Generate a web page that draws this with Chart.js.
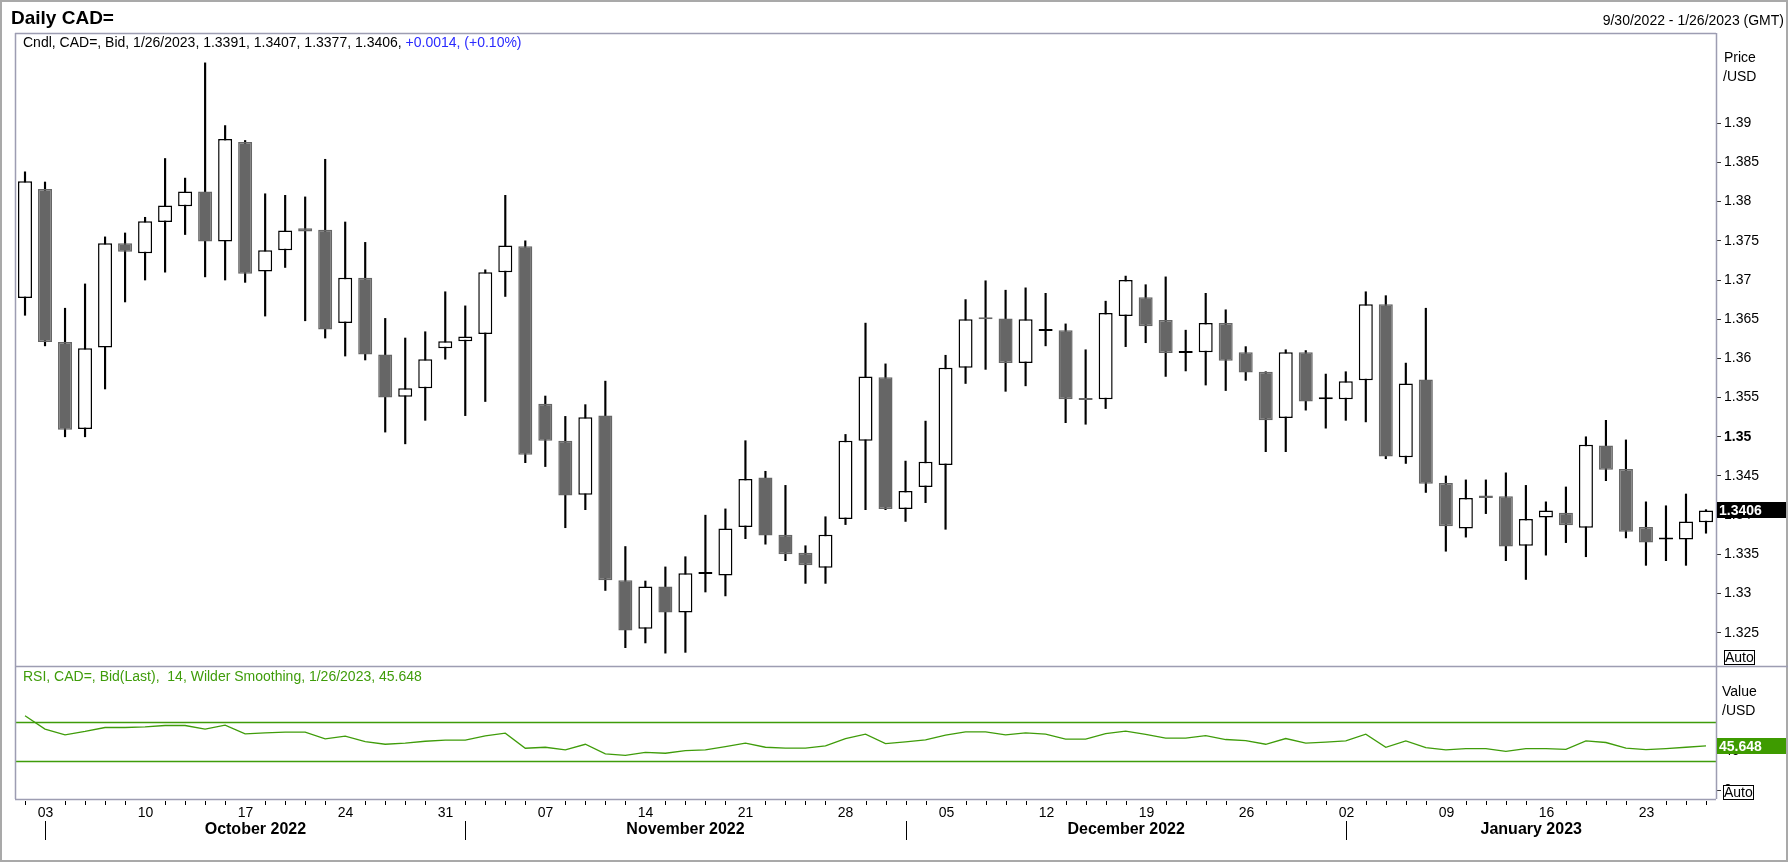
<!DOCTYPE html>
<html>
<head>
<meta charset="utf-8">
<title>Daily CAD=</title>
<script src="https://cdn.jsdelivr.net/npm/chart.js@4.4.0/dist/chart.umd.min.js"></script>
<style>
  html, body { margin: 0; padding: 0; background: #fff; }
  #wrap { width: 1788px; height: 862px; }
</style>
</head>
<body>
<div id="wrap"><canvas id="chart" width="1788" height="862"></canvas></div>
<script>
const dates = [
  '2022-09-30',
  '2022-10-03', '2022-10-04', '2022-10-05', '2022-10-06', '2022-10-07',
  '2022-10-10', '2022-10-11', '2022-10-12', '2022-10-13', '2022-10-14',
  '2022-10-17', '2022-10-18', '2022-10-19', '2022-10-20', '2022-10-21',
  '2022-10-24', '2022-10-25', '2022-10-26', '2022-10-27', '2022-10-28',
  '2022-10-31', '2022-11-01', '2022-11-02', '2022-11-03', '2022-11-04',
  '2022-11-07', '2022-11-08', '2022-11-09', '2022-11-10', '2022-11-11',
  '2022-11-14', '2022-11-15', '2022-11-16', '2022-11-17', '2022-11-18',
  '2022-11-21', '2022-11-22', '2022-11-23', '2022-11-24', '2022-11-25',
  '2022-11-28', '2022-11-29', '2022-11-30', '2022-12-01', '2022-12-02',
  '2022-12-05', '2022-12-06', '2022-12-07', '2022-12-08', '2022-12-09',
  '2022-12-12', '2022-12-13', '2022-12-14', '2022-12-15', '2022-12-16',
  '2022-12-19', '2022-12-20', '2022-12-21', '2022-12-22', '2022-12-23',
  '2022-12-26', '2022-12-27', '2022-12-28', '2022-12-29', '2022-12-30',
  '2023-01-02', '2023-01-03', '2023-01-04', '2023-01-05', '2023-01-06',
  '2023-01-09', '2023-01-10', '2023-01-11', '2023-01-12', '2023-01-13',
  '2023-01-16', '2023-01-17', '2023-01-18', '2023-01-19', '2023-01-20',
  '2023-01-23', '2023-01-24', '2023-01-25', '2023-01-26',
]

const opens = [
  1.3677,
  1.3816, 1.3621, 1.3510, 1.3614, 1.3747,
  1.3734, 1.3774, 1.3794, 1.3813, 1.3749,
  1.3876, 1.3711, 1.3738, 1.3766, 1.3764,
  1.3645, 1.3703, 1.3605, 1.3551, 1.3562,
  1.3613, 1.3622, 1.3631, 1.3710, 1.3743,
  1.3542, 1.3495, 1.3426, 1.3527, 1.3317,
  1.3255, 1.3309, 1.3276, 1.3325, 1.3323,
  1.3385, 1.3448, 1.3375, 1.3352, 1.3333,
  1.3395, 1.3495, 1.3576, 1.3408, 1.3436,
  1.3464, 1.3588, 1.3651, 1.3651, 1.3594,
  1.3635, 1.3636, 1.3548, 1.3548, 1.3654,
  1.3678, 1.3649, 1.3607, 1.3608, 1.3645,
  1.3608, 1.3583, 1.3524, 1.3608, 1.3548,
  1.3548, 1.3572, 1.3669, 1.3474, 1.3573,
  1.3441, 1.3383, 1.3425, 1.3424, 1.3361,
  1.3397, 1.3403, 1.3384, 1.3489, 1.3459,
  1.3385, 1.3369, 1.3369, 1.3391,
]

const highs = [
  1.3838,
  1.3825, 1.3664, 1.3695, 1.3755, 1.3760,
  1.3780, 1.3855, 1.3830, 1.3977, 1.3897,
  1.3878, 1.3810, 1.3808, 1.3806, 1.3854,
  1.3774, 1.3748, 1.3651, 1.3626, 1.3634,
  1.3685, 1.3667, 1.3713, 1.3808, 1.3750,
  1.3552, 1.3526, 1.3541, 1.3571, 1.3360,
  1.3316, 1.3334, 1.3347, 1.3400, 1.3408,
  1.3495, 1.3456, 1.3438, 1.3361, 1.3398,
  1.3503, 1.3645, 1.3593, 1.3469, 1.3520,
  1.3604, 1.3675, 1.3699, 1.3687, 1.3690,
  1.3683, 1.3644, 1.3611, 1.3673, 1.3705,
  1.3694, 1.3704, 1.3636, 1.3683, 1.3662,
  1.3615, 1.3583, 1.3611, 1.3610, 1.3580,
  1.3583, 1.3685, 1.3680, 1.3594, 1.3664,
  1.3450, 1.3445, 1.3445, 1.3454, 1.3438,
  1.3417, 1.3436, 1.3500, 1.3521, 1.3496,
  1.3417, 1.3412, 1.3427, 1.3407,
]

const lows = [
  1.3655,
  1.3616, 1.3500, 1.3500, 1.3561, 1.3672,
  1.3700, 1.3710, 1.3758, 1.3704, 1.3700,
  1.3697, 1.3654, 1.3716, 1.3648, 1.3626,
  1.3603, 1.3598, 1.3506, 1.3491, 1.3521,
  1.3599, 1.3527, 1.3545, 1.3679, 1.3467,
  1.3462, 1.3384, 1.3407, 1.3304, 1.3231,
  1.3237, 1.3224, 1.3225, 1.3302, 1.3297,
  1.3370, 1.3363, 1.3342, 1.3313, 1.3313,
  1.3388, 1.3407, 1.3407, 1.3392, 1.3416,
  1.3382, 1.3568, 1.3586, 1.3558, 1.3565,
  1.3616, 1.3518, 1.3516, 1.3536, 1.3615,
  1.3620, 1.3577, 1.3584, 1.3566, 1.3559,
  1.3572, 1.3481, 1.3481, 1.3534, 1.3511,
  1.3521, 1.3519, 1.3472, 1.3466, 1.3429,
  1.3354, 1.3372, 1.3402, 1.3342, 1.3318,
  1.3349, 1.3365, 1.3347, 1.3444, 1.3371,
  1.3336, 1.3342, 1.3336, 1.3377,
]

const closes = [
  1.3826,
  1.3621, 1.3509, 1.3613, 1.3747, 1.3736,
  1.3775, 1.3795, 1.3813, 1.3749, 1.3880,
  1.3708, 1.3738, 1.3763, 1.3762, 1.3637,
  1.3703, 1.3605, 1.3550, 1.3562, 1.3599,
  1.3622, 1.3628, 1.3710, 1.3744, 1.3477,
  1.3495, 1.3425, 1.3525, 1.3317, 1.3253,
  1.3309, 1.3276, 1.3326, 1.3325, 1.3383,
  1.3446, 1.3374, 1.3350, 1.3336, 1.3375,
  1.3495, 1.3577, 1.3408, 1.3431, 1.3468,
  1.3588, 1.3650, 1.3650, 1.3594, 1.3650,
  1.3635, 1.3548, 1.3547, 1.3658, 1.3700,
  1.3641, 1.3607, 1.3607, 1.3645, 1.3597,
  1.3582, 1.3521, 1.3608, 1.3545, 1.3548,
  1.3571, 1.3669, 1.3475, 1.3568, 1.3440,
  1.3386, 1.3422, 1.3422, 1.3360, 1.3395,
  1.3406, 1.3387, 1.3490, 1.3458, 1.3379,
  1.3365, 1.3369, 1.3392, 1.3406,
]

const rsi = [
  76.8,
  63.0, 57.0, 60.5, 64.6, 64.6,
  65.3, 66.7, 66.7, 62.9, 67.1,
  58.1, 59.1, 59.8, 59.8, 52.9,
  55.6, 50.1, 47.3, 48.4, 50.4,
  51.5, 51.5, 56.0, 58.7, 43.2,
  44.2, 41.4, 47.3, 37.3, 35.9,
  39.0, 38.0, 40.7, 41.4, 44.9,
  48.4, 44.2, 43.2, 43.2, 45.6,
  53.2, 57.7, 48.0, 49.7, 51.8,
  56.7, 60.1, 60.1, 57.0, 59.1,
  57.7, 52.5, 52.5, 58.4, 60.8,
  57.4, 53.6, 53.6, 56.3, 52.2,
  51.1, 47.3, 53.2, 48.4, 49.4,
  50.8, 57.7, 44.2, 50.8, 43.9,
  41.4, 42.8, 42.8, 40.0, 42.8,
  42.8, 42.1, 50.8, 49.1, 43.2,
  41.8, 42.8, 44.2, 45.648,
]

const priceTicks = [1.325, 1.33, 1.335, 1.34, 1.345, 1.35, 1.355, 1.36, 1.365, 1.37, 1.375, 1.38, 1.385, 1.39]
const rsiTicks = [0, 40]
const rsiBands = [30, 70]
const monthNames = ['January', 'February', 'March', 'April', 'May', 'June', 'July',
  'August', 'September', 'October', 'November', 'December']

const font = 'Liberation Sans, Arial, sans-serif'
const upColor = '#ffffff'
const downColor = '#666666'
const rsiColor = '#3f9c0a'
const frameColor = '#9d9db2'

Chart.defaults.font.family = font
Chart.defaults.font.size = 14
Chart.defaults.color = '#000'

const isUp = closes.map((c, i) => c >= opens[i])
const bodies = dates.map((d, i) => [opens[i], closes[i]])
const wicks = dates.map((d, i) => [lows[i], highs[i]])

function usDate(s) {
  const [y, m, d] = s.split('-')
  return `${+m}/${+d}/${y}`
}

function line(ctx, x1, y1, x2, y2) {
  ctx.beginPath()
  ctx.moveTo(x1, y1)
  ctx.lineTo(x2, y2)
  ctx.stroke()
}

function valueBox(ctx, y, text, fill) {
  ctx.fillStyle = fill
  ctx.fillRect(1717, Math.round(y) - 8, 69, 16)
  ctx.fillStyle = '#fff'
  ctx.font = 'bold 14px ' + font
  ctx.textAlign = 'left'
  ctx.textBaseline = 'middle'
  ctx.fillText(text, 1719, Math.round(y) + 1)
}

function autoBox(ctx, x, y) {
  ctx.fillStyle = '#fff'
  ctx.fillRect(x, y, 31, 15)
  ctx.strokeStyle = '#000'
  ctx.lineWidth = 1
  ctx.strokeRect(x + 0.5, y + 0.5, 30, 14)
  ctx.fillStyle = '#000'
  ctx.font = '14px ' + font
  ctx.textAlign = 'left'
  ctx.textBaseline = 'middle'
  ctx.fillText('Auto', x + 1, y + 8)
}

const decorations = {
  id: 'decorations',
  beforeDraw(chart) {
    const ctx = chart.ctx
    ctx.save()
    ctx.fillStyle = '#fff'
    ctx.fillRect(0, 0, chart.width, chart.height)
    ctx.restore()
  },
  beforeDatasetsDraw(chart) {
    const { ctx, chartArea: a, scales } = chart
    ctx.save()
    ctx.strokeStyle = rsiColor
    ctx.lineWidth = 1.5
    rsiBands.forEach((level) => {
      const y = Math.round(scales.y2.getPixelForValue(level)) + 0.5
      line(ctx, a.left, y, a.right, y)
    })
    ctx.restore()
  },
  afterDraw(chart) {
    const { ctx, chartArea: a, scales } = chart
    const xs = scales.x
    const last = closes.length - 1
    ctx.save()

    // frames
    ctx.strokeStyle = '#a9a9a9'
    ctx.lineWidth = 2
    ctx.strokeRect(1, 1, chart.width - 2, chart.height - 2)
    ctx.strokeStyle = frameColor
    ctx.lineWidth = 1.5
    const sep = Math.round(scales.y.bottom) + 0.5
    line(ctx, a.left, a.top + 0.5, a.right, a.top + 0.5)
    line(ctx, a.left + 0.5, a.top, a.left + 0.5, a.bottom)
    line(ctx, a.right + 0.5, a.top, a.right + 0.5, a.bottom)
    line(ctx, a.left, sep, chart.width, sep)
    line(ctx, a.left, a.bottom + 0.5, a.right, a.bottom + 0.5)

    // header
    ctx.fillStyle = '#000'
    ctx.font = 'bold 19px ' + font
    ctx.textAlign = 'left'
    ctx.textBaseline = 'alphabetic'
    ctx.fillText('Daily CAD=', 11, 24)
    ctx.font = '14px ' + font
    ctx.textAlign = 'right'
    ctx.textBaseline = 'middle'
    ctx.fillText(`${usDate(dates[0])} - ${usDate(dates[last])} (GMT)`, 1784, 21)

    // legends
    const change = closes[last] - closes[last - 1]
    const sign = change >= 0 ? '+' : '-'
    const mainText = `Cndl, CAD=, Bid, ${usDate(dates[last])}, ${opens[last].toFixed(4)}, ` +
      `${highs[last].toFixed(4)}, ${lows[last].toFixed(4)}, ${closes[last].toFixed(4)}, `
    const changeText = `${sign}${Math.abs(change).toFixed(4)}, (${sign}${Math.abs(change / closes[last - 1] * 100).toFixed(2)}%)`
    ctx.textAlign = 'left'
    ctx.fillText(mainText, 23, 43)
    ctx.fillStyle = '#2a2aff'
    ctx.fillText(changeText, 23 + ctx.measureText(mainText).width, 43)
    ctx.fillStyle = rsiColor
    ctx.fillText(`RSI, CAD=, Bid(Last),  14, Wilder Smoothing, ${usDate(dates[last])}, ${rsi[last].toFixed(3)}`, 23, 677)

    // axis titles
    ctx.fillStyle = '#000'
    ctx.fillText('Price', 1724, 58)
    ctx.fillText('/USD', 1723, 77)
    ctx.fillText('Value', 1722, 692)
    ctx.fillText('/USD', 1722, 711)

    // x axis: day ticks, monday labels, months
    ctx.strokeStyle = '#000'
    ctx.lineWidth = 1
    ctx.textAlign = 'center'
    dates.forEach((s, i) => {
      const [y, m, d] = s.split('-').map(Number)
      const x = Math.round(xs.getPixelForValue(i)) + 0.5
      if (new Date(y, m - 1, d).getDay() === 1) {
        ctx.font = '14px ' + font
        ctx.fillText(String(d).padStart(2, '0'), x, 813)
      } else {
        line(ctx, x, a.bottom + 2, x, a.bottom + 6)
      }
    })
    const starts = []
    dates.forEach((s, i) => {
      if (i > 0 && s.slice(5, 7) !== dates[i - 1].slice(5, 7)) starts.push(i)
    })
    starts.forEach((i, k) => {
      const x = Math.round(xs.getPixelForValue(i)) + 0.5
      const end = k + 1 < starts.length ? xs.getPixelForValue(starts[k + 1]) : a.right
      line(ctx, x, 821, x, 840)
      const [y, m] = dates[i].split('-').map(Number)
      ctx.font = 'bold 16px ' + font
      ctx.fillText(`${monthNames[m - 1]} ${y}`, (x + end) / 2, 830)
    })

    // value boxes
    valueBox(ctx, scales.y.getPixelForValue(closes[last]), closes[last].toFixed(4), '#000')
    valueBox(ctx, scales.y2.getPixelForValue(rsi[last]), rsi[last].toFixed(3), '#3e9b00')
    autoBox(ctx, 1724, Math.round(scales.y.bottom) - 16)
    autoBox(ctx, 1723, Math.round(scales.y2.bottom) - 14)

    ctx.restore()
  },
}

new Chart(document.getElementById('chart'), {
  type: 'bar',
  data: {
    labels: dates,
    datasets: [
      {
        label: 'Body',
        data: bodies,
        yAxisID: 'y',
        grouped: false,
        order: 0,
        backgroundColor: isUp.map((u) => (u ? upColor : downColor)),
        borderColor: isUp.map((u) => (u ? '#000' : downColor)),
        borderWidth: 1.5,
        borderSkipped: false,
        minBarLength: 2,
        barPercentage: 0.7,
        categoryPercentage: 1,
      },
      {
        label: 'Wick',
        data: wicks,
        yAxisID: 'y',
        grouped: false,
        order: 1,
        backgroundColor: '#000',
        borderWidth: 0,
        barThickness: 1.5,
      },
      {
        type: 'line',
        label: 'RSI',
        data: rsi,
        yAxisID: 'y2',
        order: 2,
        borderColor: rsiColor,
        borderWidth: 1.3,
        pointRadius: 0,
        tension: 0,
      },
    ],
  },
  options: {
    responsive: false,
    animation: false,
    devicePixelRatio: 1,
    events: [],
    layout: { padding: { left: 15, top: 33, right: 0, bottom: 63 } },
    plugins: { legend: { display: false }, tooltip: { enabled: false } },
    scales: {
      x: { type: 'category', display: false, offset: true },
      y: {
        position: 'right',
        stack: 'panes',
        stackWeight: 633,
        min: 1.32076,
        max: 1.40151,
        afterFit: (s) => { s.width = 72 },
        afterBuildTicks: (s) => { s.ticks = priceTicks.map((v) => ({ value: v })) },
        border: { display: false },
        grid: { drawOnChartArea: false, drawTicks: true, tickLength: 5, tickColor: '#333', tickWidth: 1 },
        ticks: {
          padding: 3,
          color: '#000',
          font: (c) => ({ family: font, size: 14, weight: c.tick && c.tick.value === 1.35 ? 'bold' : 'normal' }),
          callback: (v) => String(v),
        },
      },
      y2: {
        position: 'right',
        stack: 'panes',
        stackWeight: 133,
        min: -9.3,
        max: 128.2,
        afterFit: (s) => { s.width = 72 },
        afterBuildTicks: (s) => { s.ticks = rsiTicks.map((v) => ({ value: v })) },
        border: { display: false },
        grid: { drawOnChartArea: false, drawTicks: true, tickLength: 5, tickColor: '#333', tickWidth: 1 },
        ticks: { padding: 3, color: '#000', font: { family: font, size: 14 }, callback: (v) => String(v) },
      },
    },
  },
  plugins: [decorations],
})
</script>
</body>
</html>
